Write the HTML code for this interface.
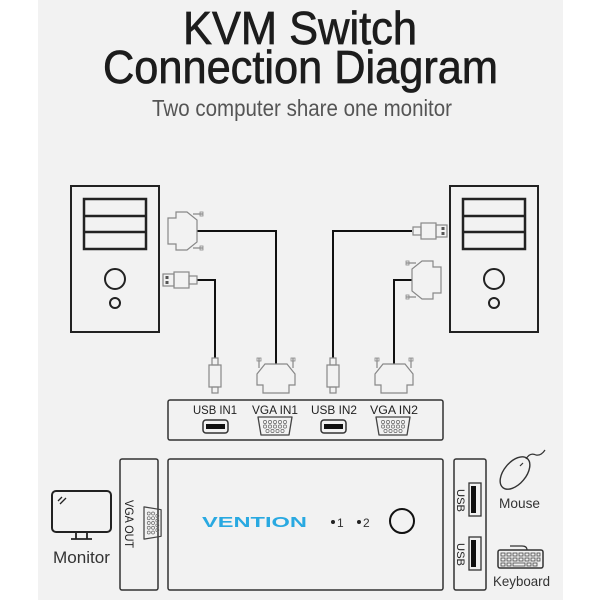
<!DOCTYPE html>
<html><head><meta charset="utf-8"><style>
html,body{margin:0;padding:0;background:#fff;}
svg{display:block;}
text{font-family:"Liberation Sans",Arial,sans-serif;}
</style></head><body>
<svg width="600" height="600" viewBox="0 0 600 600" xmlns="http://www.w3.org/2000/svg">
<rect x="0" y="0" width="600" height="600" fill="#fff"/>
<rect x="38" y="0" width="525" height="600" fill="#f2f2f2"/>

<!-- Titles -->
<text x="183" y="44" font-size="46" fill="#1c1c1c" stroke="#1c1c1c" stroke-width="0.7" textLength="234" lengthAdjust="spacingAndGlyphs">KVM Switch</text>
<text x="103" y="83" font-size="46" fill="#1c1c1c" stroke="#1c1c1c" stroke-width="0.7" textLength="395" lengthAdjust="spacingAndGlyphs">Connection Diagram</text>
<text x="152" y="116" font-size="23" fill="#555" textLength="300" lengthAdjust="spacingAndGlyphs">Two computer share one monitor</text>

<defs>
  <g id="vga">
    <path d="M-11,0 H11 L19,10 V21 H13 V29 H-13 V21 H-19 V10 Z" fill="none" stroke="#888" stroke-width="1.2"/>
    <path d="M-17,-6 V4 M17,-6 V4" stroke="#888" stroke-width="1.2"/>
    <rect x="-19" y="-6" width="4" height="3" fill="none" stroke="#888" stroke-width="0.8"/>
    <rect x="15" y="-6" width="4" height="3" fill="none" stroke="#888" stroke-width="0.8"/>
  </g>
  <g id="usbv">
    <rect x="-3" y="-2" width="6" height="7" fill="none" stroke="#888" stroke-width="1.2"/>
    <rect x="-6" y="5" width="12" height="22" fill="none" stroke="#888" stroke-width="1.2"/>
    <rect x="-3" y="27" width="6" height="6" fill="none" stroke="#888" stroke-width="1.2"/>
  </g>
  <g id="vgaport">
    <path d="M-17,0 H17 L14,18 H-14 Z" fill="none" stroke="#444" stroke-width="1.3" stroke-linejoin="round"/>
    <g fill="none" stroke="#666" stroke-width="0.7">
      <circle cx="-10" cy="5" r="1.6"/><circle cx="-5" cy="5" r="1.6"/><circle cx="0" cy="5" r="1.6"/><circle cx="5" cy="5" r="1.6"/><circle cx="10" cy="5" r="1.6"/>
      <circle cx="-10" cy="9.5" r="1.6"/><circle cx="-5" cy="9.5" r="1.6"/><circle cx="0" cy="9.5" r="1.6"/><circle cx="5" cy="9.5" r="1.6"/><circle cx="10" cy="9.5" r="1.6"/>
      <circle cx="-7.5" cy="14" r="1.6"/><circle cx="-2.5" cy="14" r="1.6"/><circle cx="2.5" cy="14" r="1.6"/><circle cx="7.5" cy="14" r="1.6"/>
    </g>
  </g>
</defs>

<!-- Left computer -->
<rect x="71" y="186" width="88" height="146" fill="none" stroke="#222" stroke-width="2"/>
<rect x="84" y="199" width="62" height="50" fill="none" stroke="#222" stroke-width="2.5"/>
<line x1="84" y1="216" x2="146" y2="216" stroke="#222" stroke-width="2.5"/>
<line x1="84" y1="232" x2="146" y2="232" stroke="#222" stroke-width="2.5"/>
<circle cx="115" cy="279" r="10" fill="none" stroke="#222" stroke-width="2"/>
<circle cx="115" cy="303" r="5" fill="none" stroke="#222" stroke-width="2"/>

<!-- Right computer -->
<rect x="450" y="186" width="88" height="146" fill="none" stroke="#222" stroke-width="2"/>
<rect x="463" y="199" width="62" height="50" fill="none" stroke="#222" stroke-width="2.5"/>
<line x1="463" y1="216" x2="525" y2="216" stroke="#222" stroke-width="2.5"/>
<line x1="463" y1="232" x2="525" y2="232" stroke="#222" stroke-width="2.5"/>
<circle cx="494" cy="279" r="10" fill="none" stroke="#222" stroke-width="2"/>
<circle cx="494" cy="303" r="5" fill="none" stroke="#222" stroke-width="2"/>

<!-- Cables -->
<g fill="none" stroke="#111" stroke-width="2">
  <path d="M197,231 H276 V364"/>
  <path d="M197,280 H215 V358"/>
  <path d="M412,231 H333 V358"/>
  <path d="M412,280 H394 V364"/>
</g>

<!-- Top connectors -->
<use href="#vga" transform="translate(197,231) rotate(90)"/>
<use href="#vga" transform="translate(412,280) rotate(-90)"/>
<g fill="none" stroke="#888" stroke-width="1.2">
  <rect x="163" y="274" width="11" height="12"/>
  <rect x="174" y="272" width="15" height="16"/>
  <rect x="189" y="276" width="8" height="8"/>
  <rect x="436" y="225" width="11" height="12"/>
  <rect x="421" y="223" width="15" height="16"/>
  <rect x="413" y="227" width="8" height="8"/>
</g>
<g fill="#555">
  <rect x="165.5" y="276" width="3" height="3"/><rect x="165.5" y="281" width="3" height="3"/>
  <rect x="441.5" y="227" width="3" height="3"/><rect x="441.5" y="232" width="3" height="3"/>
</g>

<!-- Bottom connectors -->
<use href="#vga" transform="translate(276,364)"/>
<use href="#vga" transform="translate(394,364)"/>
<use href="#usbv" transform="translate(215,360)"/>
<use href="#usbv" transform="translate(333,360)"/>

<!-- Input panel -->
<rect x="168" y="400" width="275" height="40" rx="2" fill="none" stroke="#333" stroke-width="1.5"/>
<g font-size="12" fill="#222">
  <text x="193" y="414" textLength="44" lengthAdjust="spacingAndGlyphs">USB IN1</text>
  <text x="252" y="414" textLength="46" lengthAdjust="spacingAndGlyphs">VGA IN1</text>
  <text x="311" y="414" textLength="46" lengthAdjust="spacingAndGlyphs">USB IN2</text>
  <text x="370" y="414" textLength="48" lengthAdjust="spacingAndGlyphs">VGA IN2</text>
</g>
<rect x="203" y="420" width="25" height="13" rx="3" fill="none" stroke="#333" stroke-width="1.5"/>
<rect x="206" y="424" width="19" height="5" fill="#111"/>
<rect x="321" y="420" width="25" height="13" rx="3" fill="none" stroke="#333" stroke-width="1.5"/>
<rect x="324" y="424" width="19" height="5" fill="#111"/>
<use href="#vgaport" transform="translate(275,417)"/>
<use href="#vgaport" transform="translate(393,417)"/>

<!-- Monitor -->
<rect x="52" y="491" width="59" height="41" rx="4" fill="none" stroke="#222" stroke-width="2"/>
<path d="M58,501 L62,497 M60,504 L66,498" stroke="#222" stroke-width="1.3"/>
<path d="M76,532 V539 M87,532 V539 M71,539 H92" stroke="#222" stroke-width="1.8" fill="none"/>
<text x="53" y="563" font-size="17" fill="#333" textLength="57" lengthAdjust="spacingAndGlyphs">Monitor</text>

<!-- VGA OUT panel -->
<rect x="120" y="459" width="38" height="131" rx="2" fill="none" stroke="#333" stroke-width="1.5"/>
<text transform="translate(125,500) rotate(90)" font-size="12" fill="#222" textLength="48" lengthAdjust="spacingAndGlyphs">VGA OUT</text>
<use href="#vgaport" transform="translate(144,523) rotate(-90) scale(0.95)"/>

<!-- Main box -->
<rect x="168" y="459" width="275" height="131" rx="2" fill="none" stroke="#333" stroke-width="1.5"/>
<text x="202" y="527" font-size="15" font-weight="bold" fill="#29a9e1" textLength="105" lengthAdjust="spacingAndGlyphs">VENTION</text>
<circle cx="333" cy="522" r="2" fill="#222"/>
<text x="337" y="527" font-size="12" fill="#333">1</text>
<circle cx="359" cy="522" r="2" fill="#222"/>
<text x="363" y="527" font-size="12" fill="#333">2</text>
<circle cx="402" cy="521" r="12" fill="none" stroke="#111" stroke-width="2"/>

<!-- Right USB panel -->
<rect x="454" y="459" width="32" height="131" rx="2" fill="none" stroke="#333" stroke-width="1.5"/>
<rect x="469" y="483" width="12" height="33" fill="none" stroke="#333" stroke-width="1.3"/>
<rect x="471" y="486" width="5" height="27" fill="#111"/>
<rect x="469" y="537" width="12" height="33" fill="none" stroke="#333" stroke-width="1.3"/>
<rect x="471" y="540" width="5" height="27" fill="#111"/>
<text transform="translate(457,489) rotate(90)" font-size="11" fill="#222" textLength="23" lengthAdjust="spacingAndGlyphs">USB</text>
<text transform="translate(457,543) rotate(90)" font-size="11" fill="#222" textLength="23" lengthAdjust="spacingAndGlyphs">USB</text>

<!-- Mouse -->
<ellipse cx="515" cy="473" rx="11" ry="19" transform="rotate(40 515 473)" fill="none" stroke="#333" stroke-width="1.4"/>
<line x1="520" y1="466" x2="523" y2="463" stroke="#333" stroke-width="1.2"/>
<path d="M526,459 Q530,452 536,455 Q541,456 545,450" fill="none" stroke="#333" stroke-width="1.2"/>
<text x="499" y="508" font-size="14" fill="#333" textLength="41" lengthAdjust="spacingAndGlyphs">Mouse</text>

<!-- Keyboard -->
<rect x="498" y="550" width="45" height="18" rx="2" fill="none" stroke="#333" stroke-width="1.5"/>
<path d="M510,546 H522 Q527,546 527,550" fill="none" stroke="#333" stroke-width="1.2"/>
<g fill="none" stroke="#444" stroke-width="0.8">
  <rect x="501" y="553" width="4" height="3"/><rect x="507" y="553" width="4" height="3"/><rect x="513" y="553" width="4" height="3"/><rect x="519" y="553" width="4" height="3"/><rect x="525" y="553" width="4" height="3"/><rect x="531" y="553" width="4" height="3"/><rect x="537" y="553" width="3" height="3"/>
  <rect x="501" y="558" width="4" height="3"/><rect x="507" y="558" width="4" height="3"/><rect x="513" y="558" width="4" height="3"/><rect x="519" y="558" width="4" height="3"/><rect x="525" y="558" width="4" height="3"/><rect x="531" y="558" width="4" height="3"/><rect x="537" y="558" width="3" height="3"/>
  <rect x="501" y="563" width="4" height="3"/><rect x="507" y="563" width="4" height="3"/><rect x="513" y="563" width="12" height="3"/><rect x="527" y="563" width="4" height="3"/><rect x="533" y="563" width="4" height="3"/>
</g>
<text x="493" y="586" font-size="14" fill="#333" textLength="57" lengthAdjust="spacingAndGlyphs">Keyboard</text>
</svg>
</body></html>
